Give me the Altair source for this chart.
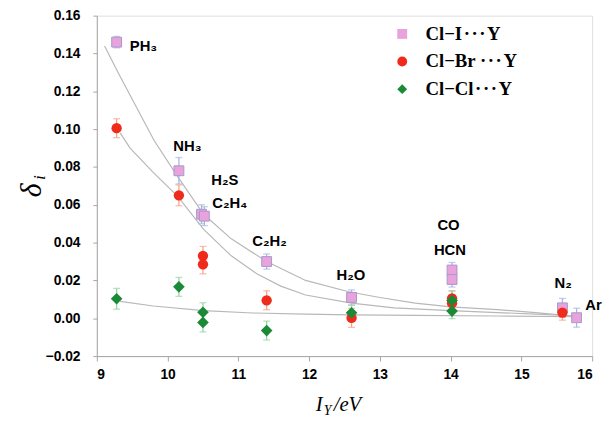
import altair as alt
import pandas as pd

series_names = ["Cl\u2212I\u200a\u00b7\u200a\u00b7\u200a\u00b7\u200aY", "Cl\u2212Br \u00b7\u200a\u00b7\u200a\u00b7\u200aY", "Cl\u2212Cl\u200a\u00b7\u200a\u00b7\u200a\u00b7\u200aY"]

# Cl-I...Y (squares)
i_x = [9.28, 10.16, 10.48, 10.52, 11.40, 12.60, 14.02, 14.02, 15.58, 15.78]
i_y = [0.146, 0.078, 0.055, 0.054, 0.030, 0.011, 0.0255, 0.0205, 0.0055, 0.0003]
i_err = [0.003, 0.007, 0.005, 0.005, 0.004, 0.004, 0.004, 0.004, 0.005, 0.005]

# Cl-Br...Y (circles)
br_x = [9.28, 10.16, 10.50, 10.50, 11.40, 12.60, 14.02, 14.02, 15.58]
br_y = [0.1005, 0.065, 0.033, 0.0285, 0.0095, 0.0002, 0.0105, 0.008, 0.003]
br_err = [0.005, 0.0055, 0.005, 0.005, 0.005, 0.005, 0.004, 0.004, 0.004]

# Cl-Cl...Y (diamonds)
cl_x = [9.28, 10.16, 10.50, 10.50, 11.40, 12.60, 14.02, 14.02]
cl_y = [0.0103, 0.0166, 0.0032, -0.0022, -0.0065, 0.0029, 0.0094, 0.0038]
cl_err = [0.0055, 0.005, 0.005, 0.005, 0.005, 0.004, 0.005, 0.004]

# fitted curves
fi_x = [9.11, 9.30, 9.54, 9.81, 10.14, 10.51, 10.90, 11.40, 11.95, 12.56, 13.0, 13.5, 14.0, 14.66, 15.2, 15.78]
fi_y = [0.144, 0.130, 0.113, 0.094, 0.075, 0.055, 0.042, 0.030, 0.020, 0.014, 0.011, 0.008, 0.006, 0.0046, 0.003, 0.001]
fb_x = [9.33, 9.47, 9.80, 10.14, 10.51, 10.90, 11.26, 11.60, 11.95, 12.60, 13.2, 14.0, 14.66, 15.2, 15.78]
fb_y = [0.098, 0.090, 0.077, 0.0646, 0.047, 0.033, 0.0235, 0.017, 0.0123, 0.008, 0.0055, 0.004, 0.003, 0.0022, 0.0012]
fc_x = [9.33, 9.80, 10.51, 11.20, 11.95, 12.60, 13.50, 14.66, 15.78]
fc_y = [0.0089, 0.0065, 0.0040, 0.0028, 0.0022, 0.0018, 0.0015, 0.0012, 0.0008]

lab_text = ["PH\u2083", "NH\u2083", "H\u2082S", "C\u2082H\u2084", "C\u2082H\u2082", "H\u2082O", "CO", "HCN", "N\u2082", "Ar"]
lab_x = [9.66, 10.28, 10.81, 10.88, 11.44, 12.59, 13.97, 13.99, 15.59, 16.02]
lab_y = [0.144, 0.091, 0.073, 0.0608, 0.0406, 0.0226, 0.0492, 0.0358, 0.0184, 0.0072]

x_ticks = [9, 10, 11, 12, 13, 14, 15, 16]
y_ticks = [-0.02, 0.0, 0.02, 0.04, 0.06, 0.08, 0.10, 0.12, 0.14, 0.16]

# ---- tables
rows = []
for s, xs_, ys_, es in [(series_names[0], i_x, i_y, i_err), (series_names[1], br_x, br_y, br_err), (series_names[2], cl_x, cl_y, cl_err)]:
    for a, b, e in zip(xs_, ys_, es):
        rows.append({"s": s, "x": a, "y": b, "lo": b - e, "hi": b + e})
pts = pd.DataFrame(rows)

crows = []
for s, xs_, ys_ in [(series_names[0], fi_x, fi_y), (series_names[1], fb_x, fb_y), (series_names[2], fc_x, fc_y)]:
    for a, b in zip(xs_, ys_):
        crows.append({"s": s, "x": a, "y": b})
curves = pd.DataFrame(crows)
labels = pd.DataFrame({"t": lab_text, "x": lab_x, "y": lab_y})

W, H = 502, 345
LF = "Liberation Sans"
AX = "#a6a6a6"
xs = alt.Scale(domain=[9, 16], nice=False, zero=False)
ys = alt.Scale(domain=[-0.02, 0.16], nice=False, zero=False)
xaxis = alt.Axis(values=x_ticks, format="d", title=None, grid=False, labelFont=LF, labelFontWeight="bold",
                 labelFontSize=14, labelColor="black", tickSize=5, tickColor=AX, domainColor=AX, labelPadding=7)
yaxis = alt.Axis(values=y_ticks, format=".2f", title=None, grid=False, labelFont=LF, labelFontWeight="bold",
                 labelFontSize=14, labelColor="black", tickSize=4, tickColor=AX, domainColor=AX, labelPadding=13)

def X(f="x"):
    return alt.X(f + ":Q", scale=xs, axis=xaxis)

def Y(f="y"):
    return alt.Y(f + ":Q", scale=ys, axis=yaxis)

pink, red, green = "#e8a2dc", "#f02b1b", "#1b8a37"
epink, ered, egreen = "#a9b6e0", "#f5a48c", "#98d4a6"

curve_layer = alt.Chart(curves).mark_line(color="#b8b8b8", strokeWidth=1.2).encode(
    x=X(), y=Y(), detail="s:N")

err_layers = []
for s, c in zip(series_names, [epink, ered, egreen]):
    base = alt.Chart(pts).transform_filter(alt.datum.s == s)
    err_layers.append(base.mark_rule(color=c, strokeWidth=1.3).encode(x=X(), y=Y("lo"), y2="hi:Q"))
    err_layers.append(base.transform_fold(["lo", "hi"], as_=["k", "v"]).mark_tick(
        color=c, orient="horizontal", size=7, thickness=1.3).encode(x=X(), y=Y("v")))

leg = alt.Legend(title=None, orient="none", legendX=300, legendY=9, labelFont="Liberation Serif",
                 labelFontWeight="bold", labelFontSize=19, labelColor="black", symbolSize=100,
                 rowPadding=8, labelOffset=14, symbolStrokeWidth=0, symbolOpacity=1)
cscale = alt.Scale(domain=series_names, range=[pink, red, green])
sscale = alt.Scale(domain=series_names, range=["square", "circle", "diamond"])

pt_layers = []
for s, sz, stroke in zip(series_names, [100, 110, 140], ["#a898cc", None, None]):
    kw = dict(filled=True, opacity=1, size=sz)
    if stroke:
        kw.update(stroke=stroke, strokeWidth=1)
    else:
        kw.update(strokeWidth=0)
    pt_layers.append(alt.Chart(pts).transform_filter(alt.datum.s == s).mark_point(**kw).encode(
        x=X(), y=Y(),
        color=alt.Color("s:N", scale=cscale, legend=leg),
        shape=alt.Shape("s:N", scale=sscale, legend=leg)))

text_layer = alt.Chart(labels).mark_text(font=LF, fontWeight="bold", fontSize=15, color="black",
                                         align="center", baseline="middle").encode(x=X(), y=Y(), text="t:N")

def note(t, px, py, size, angle=0, align="left", baseline="alphabetic"):
    kw = dict(font="Liberation Serif", fontStyle="italic", fontSize=size, color="black",
              align=align, baseline=baseline)
    if angle:
        kw["angle"] = angle
    return alt.Chart(pd.DataFrame({"t": [t]})).mark_text(**kw).encode(
        x=alt.value(px), y=alt.value(py), text="t:N")

titles = [
    note("I", 222, 401, 21),
    note("Y", 230, 405, 14),
    note("/eV", 240, 401, 21),
    note("\u03b4", -66, 177, 30, angle=270, align="center", baseline="middle"),
    note("i", -58, 164, 16, angle=270, align="center", baseline="middle"),
]

chart = alt.layer(curve_layer, *err_layers, *pt_layers, text_layer, *titles).properties(
    width=W, height=H, padding={"left": 90, "top": 5, "right": 12, "bottom": 62},
    autosize=alt.AutoSizeParams(type="none")
).configure_view(stroke=None).configure(background="white")

chart.save("out.html", embed_options={"renderer": "svg", "actions": False})
